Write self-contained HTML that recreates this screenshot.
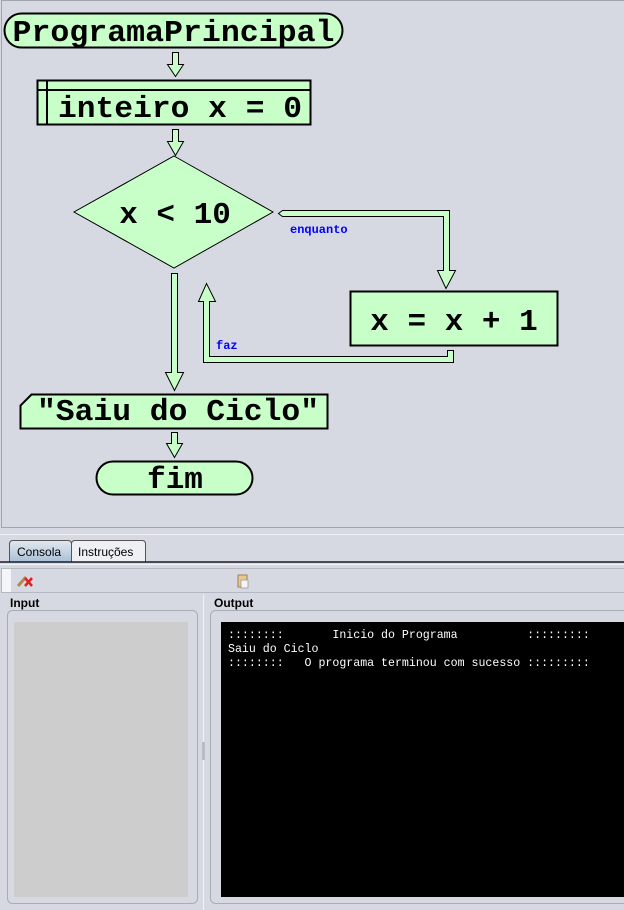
<!DOCTYPE html>
<html><head><meta charset="utf-8"><style>
html,body{margin:0;padding:0;width:624px;height:910px;overflow:hidden;background:#d6d9e2;}
svg{display:block}
.pre{white-space:pre}
</style></head><body>
<svg width="624" height="910" xmlns="http://www.w3.org/2000/svg">
<rect x="0" y="0" width="624" height="910" fill="#d6d9e2"/>
<rect x="1.5" y="0.5" width="630" height="527" fill="#d6d9e2" stroke="#a0a4ac"/>
<g font-family="Liberation Mono, monospace" font-weight="bold" fill="#000">
<rect x="4.5" y="13.5" width="338" height="34" rx="17" fill="#c8ffc8" stroke="#000" stroke-width="2"/>
<text x="173.5" y="41" font-size="31" text-anchor="middle" textLength="322" lengthAdjust="spacingAndGlyphs">ProgramaPrincipal</text>
<path d="M172.5 52.5 H178.5 V64.5 H183.5 L175.5 76.5 L167.5 64.5 H172.5 Z" fill="#c8ffc8" stroke="#000" stroke-width="1"/>
<rect x="37.5" y="80.5" width="273" height="44" fill="#c8ffc8" stroke="#000" stroke-width="2"/>
<line x1="47" y1="80" x2="47" y2="125" stroke="#000" stroke-width="2"/>
<line x1="37" y1="90" x2="311" y2="90" stroke="#000" stroke-width="2"/>
<text x="58" y="117" font-size="31" textLength="244" lengthAdjust="spacingAndGlyphs">inteiro x = 0</text>
<path d="M172.5 129.5 H178.5 V141.5 H183.5 L175.5 155.5 L167.5 141.5 H172.5 Z" fill="#c8ffc8" stroke="#000" stroke-width="1"/>
<path d="M174 156 L273 212 L174 268 L74 212 Z" fill="#c8ffc8" stroke="#000" stroke-width="1"/>
<text x="175" y="223" font-size="31" text-anchor="middle">x &lt; 10</text>
<path d="M171.5 273.5 H177.5 V372.5 H183.5 L174.5 390.5 L165.5 372.5 H171.5 Z" fill="#c8ffc8" stroke="#000" stroke-width="1"/>
<path d="M278.5 213.5 L282.5 210.5 H449.5 V270.5 H455.5 L446 288.5 L437.5 270.5 H443.5 V216.5 H282.5 Z" fill="#c8ffc8" stroke="#000" stroke-width="1"/>
<text x="290" y="233" font-size="12" fill="#0000ff">enquanto</text>
<rect x="350.5" y="291.5" width="207" height="54" fill="#c8ffc8" stroke="#000" stroke-width="2"/>
<text x="454" y="330" font-size="31" text-anchor="middle">x = x + 1</text>
<path d="M447.5 350.5 H453.5 V362.5 H203.5 V301.5 H198.5 L206.5 283.5 L215.5 301.5 H209.5 V356.5 H447.5 Z" fill="#c8ffc8" stroke="#000" stroke-width="1"/>
<text x="216" y="349" font-size="12" fill="#0000ff">faz</text>
<path d="M20.5 428.5 V405.5 L31.5 394.5 H327.5 V428.5 Z" fill="#c8ffc8" stroke="#000" stroke-width="2"/>
<text x="37" y="420" font-size="31" textLength="282" lengthAdjust="spacingAndGlyphs">"Saiu do Ciclo"</text>
<path d="M171.5 432.5 H177.5 V443.5 H182.5 L174.5 457.5 L166.5 443.5 H171.5 Z" fill="#c8ffc8" stroke="#000" stroke-width="1"/>
<rect x="96.5" y="461.5" width="156" height="33" rx="16.5" fill="#c8ffc8" stroke="#000" stroke-width="2"/>
<text x="175" y="488" font-size="31" text-anchor="middle">fim</text>
</g>

<line x1="0" y1="534.5" x2="624" y2="534.5" stroke="#eef0f4"/>
<g font-family="Liberation Sans, sans-serif" font-size="12">
<defs>
<linearGradient id="tg" x1="0" y1="0" x2="0" y2="1"><stop offset="0" stop-color="#e2e8f0"/><stop offset="1" stop-color="#a9c0d6"/></linearGradient>
</defs>
<path d="M9.5 562 V544 Q9.5 540.5 13 540.5 H68 Q71.5 540.5 71.5 544 V562" fill="url(#tg)" stroke="#555"/>
<text x="17" y="556" fill="#000">Consola</text>
<path d="M71.5 562 V544 Q71.5 540.5 75 540.5 H142 Q145.5 540.5 145.5 544 V562" fill="#eef0f4" stroke="#555"/>
<text x="78" y="556" fill="#000">Instruções</text>
<line x1="0" y1="562" x2="624" y2="562" stroke="#1a1a2a" stroke-width="1.5"/>
<line x1="0" y1="564.5" x2="624" y2="564.5" stroke="#f2f4f8"/>
<rect x="1.5" y="568.5" width="630" height="24" fill="#d6d9e2" stroke="#b4b8c0"/>
<rect x="2" y="569" width="9" height="23" fill="#f4f5f8"/>
<path d="M18 586 L26 577" stroke="#b08a50" stroke-width="3"/>
<path d="M25 578 L32 586 M32 578 L25 586" stroke="#e02020" stroke-width="2.5"/>
<rect x="238" y="575" width="9" height="12" fill="#e8c890" stroke="#a08050"/>
<rect x="241" y="580" width="7" height="8" fill="#f4f4f4" stroke="#999" stroke-width="0.8"/>
<text x="10" y="607" font-weight="bold" fill="#000" font-size="12">Input</text>
<text x="214" y="607" font-weight="bold" fill="#000" font-size="12">Output</text>
</g>
<rect x="7.5" y="610.5" width="190" height="293" rx="5" fill="#d6d9e2" stroke="#a8acb4"/>
<rect x="14" y="622" width="174" height="275" fill="#cdcdcd"/>
<line x1="203.5" y1="594" x2="203.5" y2="910" stroke="#eef0f4"/>
<rect x="202" y="742" width="3" height="18" fill="#b8bcc4"/>
<rect x="210.5" y="610.5" width="420" height="293" rx="5" fill="#d6d9e2" stroke="#a8acb4"/>
<rect x="221" y="622" width="403" height="275" fill="#000"/>
<g font-family="Liberation Mono, monospace" font-size="11.6" fill="#fff">
<text class="pre" x="228" y="638">::::::::       Inicio do Programa          :::::::::</text>
<text class="pre" x="228" y="652">Saiu do Ciclo</text>
<text class="pre" x="228" y="666">::::::::   O programa terminou com sucesso :::::::::</text>
</g>
</svg>
</body></html>
